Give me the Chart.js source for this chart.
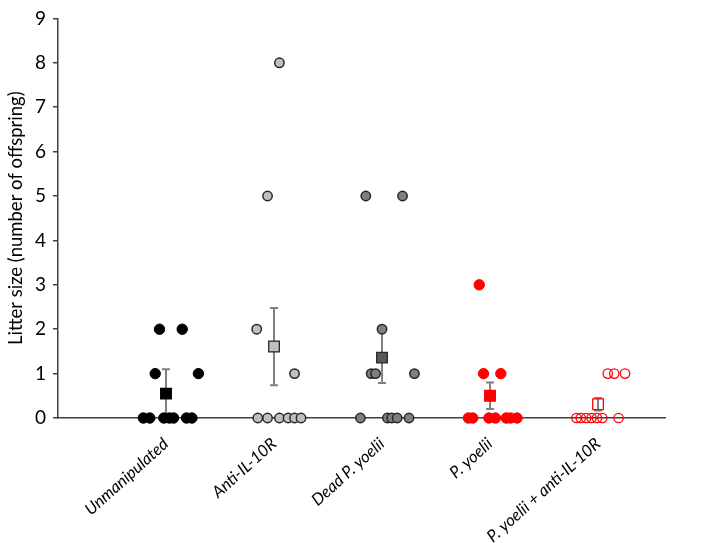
<!DOCTYPE html>
<html>
<head>
<meta charset="utf-8">
<script src="https://cdn.jsdelivr.net/npm/chart.js@4.4.1/dist/chart.umd.min.js"></script>
<style>
  html, body { margin: 0; padding: 0; background: #fff; }
  #wrap { width: 709px; height: 543px; }
</style>
</head>
<body>
<div id="wrap"><canvas id="c" width="709" height="543"></canvas></div>
<script>
// ---- data ----
const categories = ['Unmanipulated', 'Anti-IL-10R', 'Dead P. yoelii', 'P. yoelii', 'P. yoelii + anti-IL-10R'];
const yTicks = [0, 1, 2, 3, 4, 5, 6, 7, 8, 9];

const unmanipValues = [0, 0, 0, 0, 0, 0, 0, 1, 1, 2, 2];
const unmanipJitter = [-0.21, -0.15, -0.02, 0.03, 0.07, 0.19, 0.24, -0.10, 0.30, -0.06, 0.15];

const antiValues = [0, 0, 0, 0, 0, 0, 1, 2, 5, 8];
const antiJitter = [-0.15, -0.06, 0.05, 0.13, 0.19, 0.25, 0.19, -0.16, -0.06, 0.05];

const deadValues = [0, 0, 0, 0, 0, 1, 1, 1, 2, 5, 5];
const deadJitter = [-0.20, 0.05, 0.09, 0.14, 0.25, -0.10, -0.06, 0.30, 0, -0.15, 0.19];

const pyValues = [0, 0, 0, 0, 0, 0, 0, 1, 1, 3];
const pyJitter = [-0.20, -0.16, -0.01, 0.05, 0.15, 0.19, 0.25, -0.06, 0.10, -0.10];

const pyAntiValues = [0, 0, 0, 0, 0, 0, 0, 1, 1, 1];
const pyAntiJitter = [-0.20, -0.16, -0.11, -0.06, -0.01, 0.04, 0.19, 0.09, 0.15, 0.25];

const means = [0.55, 1.61, 1.36, 0.50, 0.31];
const errLow = [0.00, 0.74, 0.79, 0.20, 0.17];
const errHigh = [1.10, 2.48, 1.93, 0.80, 0.45];

// ---- build ----
const groups = [
  { v: unmanipValues, j: unmanipJitter, fill: '#000000', border: '#000000', bw: 1, r: 5.2 },
  { v: antiValues, j: antiJitter, fill: '#c0c0c0', border: '#262626', bw: 1.5, r: 4.7 },
  { v: deadValues, j: deadJitter, fill: '#7f7f7f', border: '#262626', bw: 1.5, r: 4.7 },
  { v: pyValues, j: pyJitter, fill: '#ff0000', border: '#ff0000', bw: 1, r: 5.2 },
  { v: pyAntiValues, j: pyAntiJitter, fill: 'rgba(255,255,255,0)', border: '#ff0000', bw: 1.3, r: 4.7 }
];
const meanFill = ['#000000', '#c0c0c0', '#595959', '#ff0000', 'rgba(255,255,255,0)'];
const meanBorder = ['#000000', '#262626', '#262626', '#ff0000', '#ff0000'];

const datasets = [];
groups.forEach((g, gi) => {
  datasets.push({
    type: 'scatter',
    data: g.v.map((y, k) => ({ x: gi + 1 + g.j[k], y: y })),
    pointStyle: 'circle',
    pointRadius: g.r,
    pointHoverRadius: g.r,
    backgroundColor: g.fill,
    borderColor: g.border,
    pointBorderWidth: g.bw,
    clip: false,
    order: 2
  });
});
datasets.push({
  type: 'scatter',
  data: means.map((m, i) => ({ x: i + 1, y: m })),
  pointStyle: 'rect',
  pointRadius: 7.5,
  pointHoverRadius: 7.5,
  backgroundColor: meanFill,
  borderColor: meanBorder,
  pointBorderWidth: 1.3,
  clip: false,
  order: 1
});

const errorBars = {
  id: 'errorBars',
  beforeDatasetsDraw(chart) {
    const ctx = chart.ctx, xs = chart.scales.x, ys = chart.scales.y;
    ctx.save();
    ctx.strokeStyle = '#808080';
    ctx.lineWidth = 2;
    means.forEach((m, i) => {
      const px = xs.getPixelForValue(i + 1);
      const top = ys.getPixelForValue(errHigh[i]);
      const bot = ys.getPixelForValue(errLow[i]);
      ctx.beginPath();
      ctx.moveTo(px, top); ctx.lineTo(px, bot);
      ctx.moveTo(px - 4, top); ctx.lineTo(px + 4, top);
      ctx.moveTo(px - 4, bot); ctx.lineTo(px + 4, bot);
      ctx.stroke();
    });
    ctx.restore();
  }
};

new Chart(document.getElementById('c'), {
  type: 'scatter',
  data: { datasets },
  plugins: [errorBars],
  options: {
    responsive: false,
    animation: false,
    events: [],
    layout: { padding: { top: 10, right: 44, bottom: 0, left: 0 } },
    plugins: { legend: { display: false }, tooltip: { enabled: false } },
    scales: {
      x: {
        type: 'linear',
        min: 0,
        max: 5.62,
        afterBuildTicks: (s) => { s.ticks = categories.map((c, i) => ({ value: i + 1 })); },
        afterFit: (s) => { s.height = 125; },
        grid: { display: false, drawTicks: false },
        border: { display: true, color: '#404040', width: 1.5 },
        ticks: {
          autoSkip: false,
          minRotation: 42,
          maxRotation: 42,
          padding: 16,
          color: '#000',
          font: { family: 'Lato', size: 16.5, style: 'italic' },
          callback: (v) => categories[Math.round(v) - 1] || ''
        }
      },
      y: {
        min: 0,
        max: 9,
        afterBuildTicks: (s) => { s.ticks = yTicks.map(v => ({ value: v })); },
        afterFit: (s) => { s.width = 58; },
        grid: { display: true, drawOnChartArea: false, drawTicks: true, tickLength: 5, color: '#404040', lineWidth: 1.5 },
        border: { display: true, color: '#404040', width: 1.5 },
        ticks: { padding: 7, color: '#000', font: { family: 'Lato', size: 19 } },
        title: {
          display: true,
          text: 'Litter size (number of offspring)',
          color: '#000',
          padding: { top: 5, bottom: 0 },
          font: { family: 'Lato', size: 18.5 }
        }
      }
    }
  }
});
</script>
</body>
</html>
